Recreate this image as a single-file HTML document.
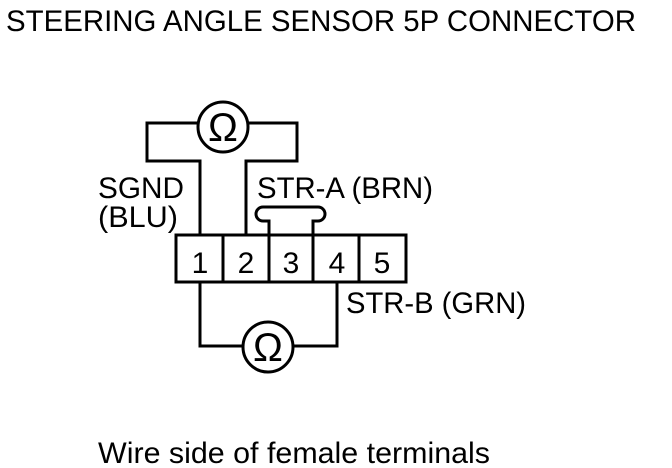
<!DOCTYPE html>
<html><head><style>
html,body{margin:0;padding:0;background:#fff;}
svg{display:block}
text{font-family:"Liberation Sans",Arial,sans-serif;fill:#000}
</style></head><body>
<svg width="672" height="468" viewBox="0 0 672 468" xmlns="http://www.w3.org/2000/svg">
<text x="6" y="31" font-size="30" textLength="630" lengthAdjust="spacingAndGlyphs">STEERING ANGLE SENSOR 5P CONNECTOR</text>
<g fill="none" stroke="#000" stroke-width="3">
<polyline points="200,235 200,161 147,161 147,123 297,123 297,161 246,161 246,235"/>
<circle cx="223" cy="127" r="25" fill="#fff"/>
<path d="M269,235 V221 H263 A7,7 0 0 1 263,207 H318 A7,7 0 0 1 318,221 H313 V235"/>
<rect x="176" y="235" width="230" height="47" fill="#fff"/>
<line x1="223" y1="235" x2="223" y2="282"/>
<line x1="269" y1="235" x2="269" y2="282"/>
<line x1="313" y1="235" x2="313" y2="282"/>
<line x1="359" y1="235" x2="359" y2="282"/>
<polyline points="200,282 200,346 337,346 337,282"/>
<circle cx="268" cy="347" r="25" fill="#fff"/>
</g>
<text x="223" y="141" font-size="40" text-anchor="middle">Ω</text>
<text x="268" y="361" font-size="40" text-anchor="middle">Ω</text>
<g font-size="30" text-anchor="middle">
<text x="200" y="273">1</text><text x="246" y="273">2</text><text x="291" y="273">3</text><text x="337" y="273">4</text><text x="382" y="273">5</text>
</g>
<g font-size="30">
<text x="98" y="198" textLength="86" lengthAdjust="spacingAndGlyphs">SGND</text>
<text x="98" y="227" textLength="80" lengthAdjust="spacingAndGlyphs">(BLU)</text>
<text x="257" y="198" textLength="176" lengthAdjust="spacingAndGlyphs">STR-A (BRN)</text>
<text x="346" y="313" textLength="180" lengthAdjust="spacingAndGlyphs">STR-B (GRN)</text>
<text x="98" y="463" textLength="392" lengthAdjust="spacingAndGlyphs">Wire side of female terminals</text>
</g>
</svg>
</body></html>
